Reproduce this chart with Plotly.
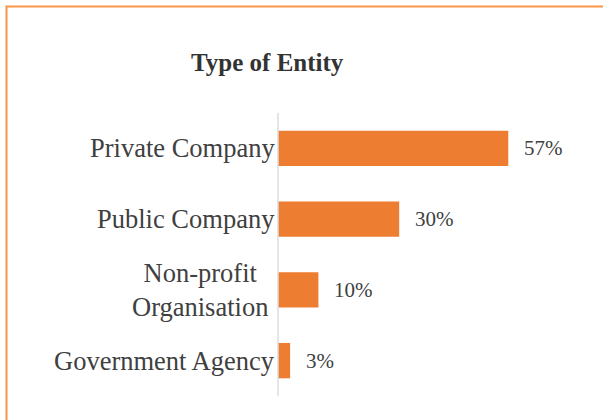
import plotly.graph_objects as go

categories = ["Private Company", "Public Company", "Non-profit<br>Organisation", "Government Agency"]
values = [57, 30, 10, 3]
value_labels = ["57%", "30%", "10%", "3%"]

W, H = 603, 420
L, R, T, B = 278, 581, 113, 396  # plot area in pixels

def px(x):
    return (x - L) / (R - L)

def py(y):
    return (B - y) / (B - T)

FONT = "Liberation Serif"
TXT = "#404040"
BAR = "#ED7D31"

fig = go.Figure()
fig.add_trace(go.Bar(
    y=categories, x=values, orientation="h",
    marker=dict(color=BAR, line=dict(width=0)),
    width=0.5, hoverinfo="skip",
))

annotations = []
for c, v, t in zip(categories, values, value_labels):
    annotations.append(dict(x=v, y=c, xref="x", yref="y", text=t, showarrow=False,
                            xanchor="left", yanchor="middle", xshift=14,
                            font=dict(family=FONT, size=21, color=TXT)))
    annotations.append(dict(x=0, y=c, xref="x", yref="y", text=c, showarrow=False,
                            xanchor="right", yanchor="middle", align="center",
                            xshift=-8 if "<br>" in c else -1,
                            font=dict(family=FONT, size=26.5, color=TXT)))

annotations.append(dict(x=px(267.5), y=py(62), xref="paper", yref="paper",
                        text="<b>Type of Entity</b>", showarrow=False,
                        xanchor="center", yanchor="middle",
                        font=dict(family=FONT, size=25, color="#333333")))

fig.update_layout(
    width=W, height=H,
    margin=dict(l=L, r=W - R, t=T, b=H - B, pad=0),
    paper_bgcolor="white", plot_bgcolor="white",
    showlegend=False,
    xaxis=dict(range=[0, 75], visible=False, fixedrange=True),
    yaxis=dict(categoryorder="array", categoryarray=categories[::-1],
               showticklabels=False, showgrid=False, zeroline=False,
               showline=False, ticks="", fixedrange=True),
    annotations=annotations,
    shapes=[
        dict(type="line", xref="paper", yref="paper", x0=0, x1=0, y0=0, y1=1,
             line=dict(color="#D9DCE3", width=1.5)),
        dict(type="rect", xref="paper", yref="paper",
             x0=px(6.5), x1=px(640), y0=py(6.5), y1=py(460),
             line=dict(color="#F79646", width=2), fillcolor="rgba(0,0,0,0)"),
    ],
)

fig.write_html("out.html", config={"displayModeBar": False},
               post_script="document.body.style.margin='0';document.body.style.overflow='hidden';")
